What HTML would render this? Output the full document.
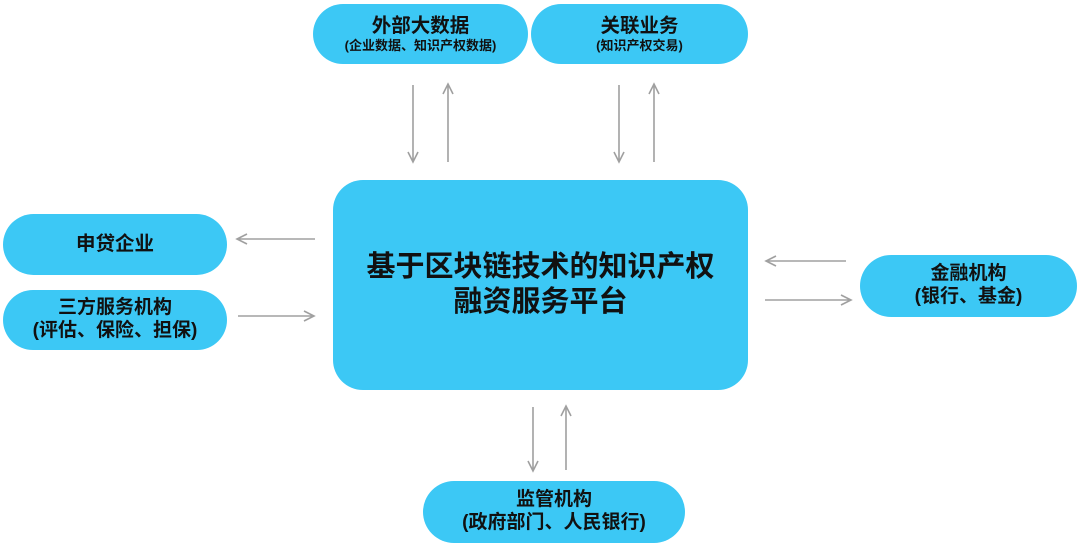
<!DOCTYPE html>
<html><head><meta charset="utf-8"><style>
html,body{margin:0;padding:0;background:#fff;}
body{width:1080px;height:548px;position:relative;overflow:hidden;font-family:"Liberation Sans","Noto Sans CJK SC",sans-serif;font-weight:bold;color:#111;}
.b{position:absolute;background:#3cc8f5;border-radius:31px;display:flex;flex-direction:column;align-items:center;justify-content:center;text-align:center;line-height:1.2;}
.t{font-size:19.5px;}
.s{font-size:13px;}
.m{font-size:19px;}
</style></head><body>
<div class="b" style="left:313px;top:4px;width:215px;height:60px;"><div class="t">外部大数据</div><div class="s">(企业数据、知识产权数据)</div></div>
<div class="b" style="left:531px;top:4px;width:217px;height:60px;"><div class="t">关联业务</div><div class="s">(知识产权交易)</div></div>
<div class="b" style="left:333px;top:180px;width:415px;height:210px;border-radius:30px;"><div style="font-size:29px;line-height:1.2">基于区块链技术的知识产权<br>融资服务平台</div></div>
<div class="b" style="left:3px;top:214px;width:224px;height:61px;"><div class="t">申贷企业</div></div>
<div class="b" style="left:3px;top:290px;width:224px;height:60px;"><div class="m">三方服务机构</div><div class="m">(评估、保险、担保)</div></div>
<div class="b" style="left:860px;top:255px;width:217px;height:62px;"><div class="m">金融机构</div><div class="m">(银行、基金)</div></div>
<div class="b" style="left:423px;top:481px;width:262px;height:62px;"><div class="m">监管机构</div><div class="m">(政府部门、人民银行)</div></div>
<svg width="1080" height="548" style="position:absolute;left:0;top:0" fill="none" stroke="#a0a0a0" stroke-width="1.6">
<path d="M413 85V162M408 152L413 162L418 152"/>
<path d="M448 162V84M443 94L448 84L453 94"/>
<path d="M619 85V162M614 152L619 162L624 152"/>
<path d="M654 162V84M649 94L654 84L659 94"/>
<path d="M315 239H237M247 234L237 239L247 244"/>
<path d="M238 316H314M304 311L314 316L304 321"/>
<path d="M846 261H766M776 256L766 261L776 266"/>
<path d="M765 300H851M841 295L851 300L841 305"/>
<path d="M533 407V471M528 461L533 471L538 461"/>
<path d="M566 470V406M561 416L566 406L571 416"/>
</svg>
</body></html>
